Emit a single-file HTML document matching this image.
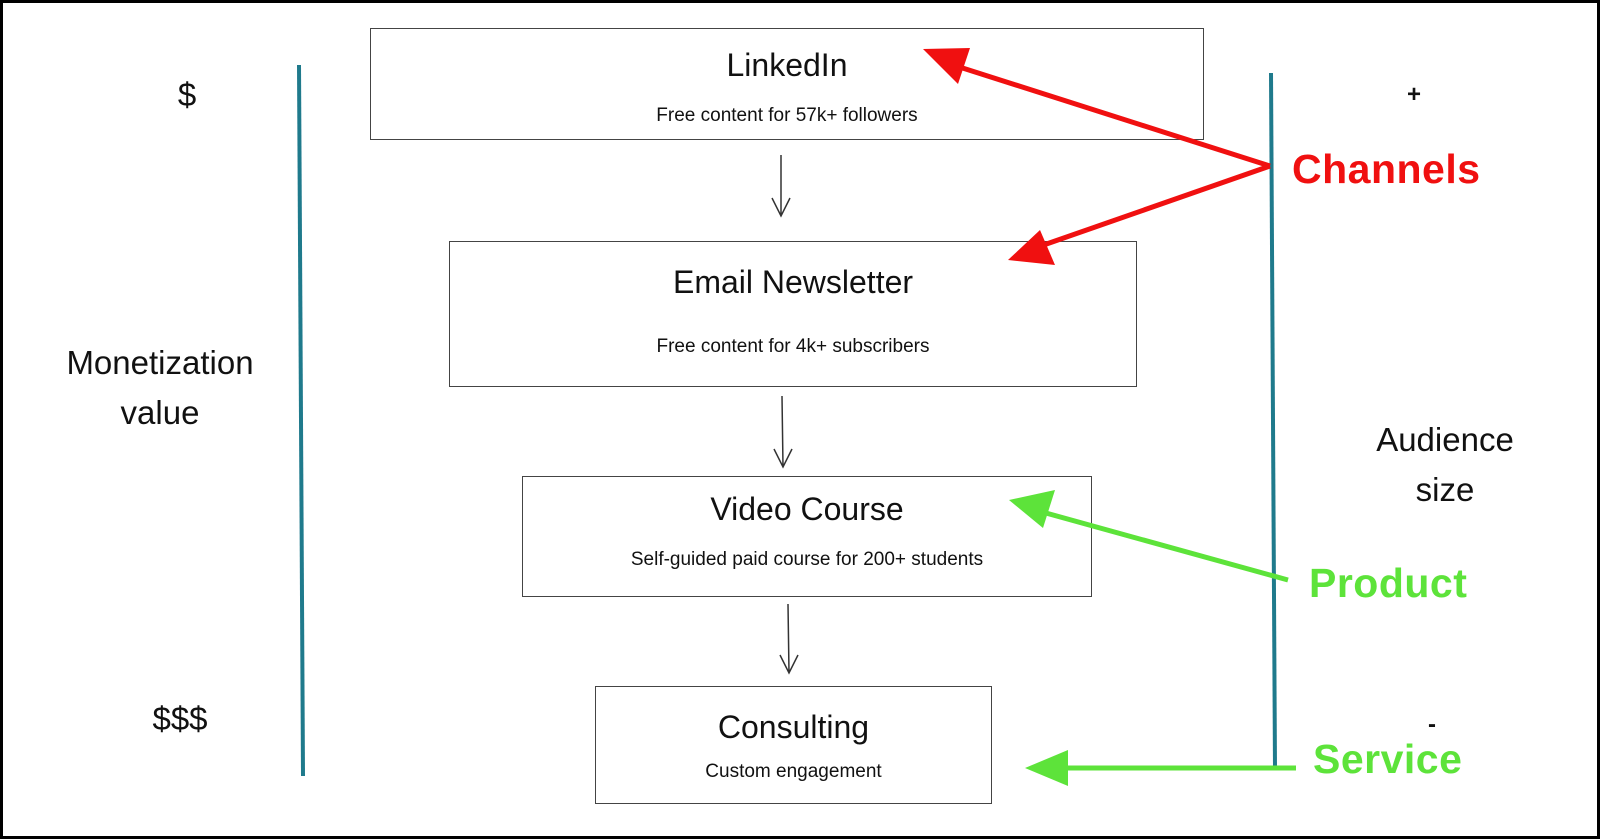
<!DOCTYPE html>
<html><head><style>
body{margin:0;width:1600px;height:839px;background:#fff;overflow:hidden;font-family:"Liberation Sans",sans-serif}
.frame{position:absolute;left:0;top:0;width:1594px;height:833px;border:3px solid #000}
.box{position:absolute;border:1.5px solid #444;box-sizing:border-box;text-align:center;color:#111}
.t{font-size:32px;position:absolute;left:0;right:0}
.s{font-size:19px;position:absolute;left:0;right:0}
.l{position:absolute;color:#111;text-align:center;font-size:33px;line-height:50px}
.c{position:absolute;font-weight:bold;font-size:41px;letter-spacing:0.5px}
</style></head><body>
<div class="frame"></div>
<div class="box" style="left:370px;top:28px;width:834px;height:112px"><div class="t" style="top:18px">LinkedIn</div><div class="s" style="top:76px">Free content for 57k+ followers</div></div>
<div class="box" style="left:449px;top:241px;width:688px;height:146px"><div class="t" style="top:22px">Email Newsletter</div><div class="s" style="top:94px">Free content for 4k+ subscribers</div></div>
<div class="box" style="left:522px;top:476px;width:570px;height:121px"><div class="t" style="top:14px">Video Course</div><div class="s" style="top:72px">Self-guided paid course for 200+ students</div></div>
<div class="box" style="left:595px;top:686px;width:397px;height:118px"><div class="t" style="top:22px">Consulting</div><div class="s" style="top:74px">Custom engagement</div></div>
<div class="l" style="left:150px;top:70px;width:74px">$</div>
<div class="l" style="left:20px;top:338px;width:280px">Monetization<br>value</div>
<div class="l" style="left:130px;top:694px;width:100px">$$$</div>
<div class="l" style="left:1394px;top:70px;width:40px;font-size:24px;font-weight:bold">+</div>
<div class="l" style="left:1340px;top:415px;width:210px">Audience<br>size</div>
<div class="l" style="left:1412px;top:700px;width:40px;font-size:24px;font-weight:bold">-</div>
<div class="c" style="left:1292px;top:146px;color:#f01010">Channels</div>
<div class="c" style="left:1309px;top:560px;color:#5de33a">Product</div>
<div class="c" style="left:1313px;top:736px;color:#5de33a">Service</div>
<svg width="1600" height="839" style="position:absolute;left:0;top:0">
<line x1="299" y1="65" x2="303" y2="776" stroke="#1f7a8c" stroke-width="4"/>
<line x1="1271" y1="73" x2="1275" y2="770" stroke="#1f7a8c" stroke-width="4"/>
<g stroke="#333" stroke-width="1.5" fill="none">
<path d="M781 155 L781 216 M772 198 L781 216 L790 198"/>
<path d="M782 396 L783 467 M774 449 L783 467 L792 449"/>
<path d="M788 604 L789 673 M780 655 L789 673 L798 655"/>
</g>
<g stroke="#f01010" stroke-width="5" fill="#f01010">
<line x1="1270" y1="166" x2="950" y2="64"/>
<line x1="1270" y1="166" x2="1035" y2="248"/>
<polygon points="923,49 970,48 958,84" stroke="none"/>
<polygon points="1008,260 1040,230 1055,265" stroke="none"/>
</g>
<g stroke="#5de33a" stroke-width="5" fill="#5de33a">
<line x1="1288" y1="580" x2="1035" y2="510"/>
<polygon points="1009,500 1055,490 1043,528" stroke="none"/>
<line x1="1296" y1="768" x2="1055" y2="768"/>
<polygon points="1025,768 1068,750 1068,786" stroke="none"/>
</g>
</svg>
</body></html>
